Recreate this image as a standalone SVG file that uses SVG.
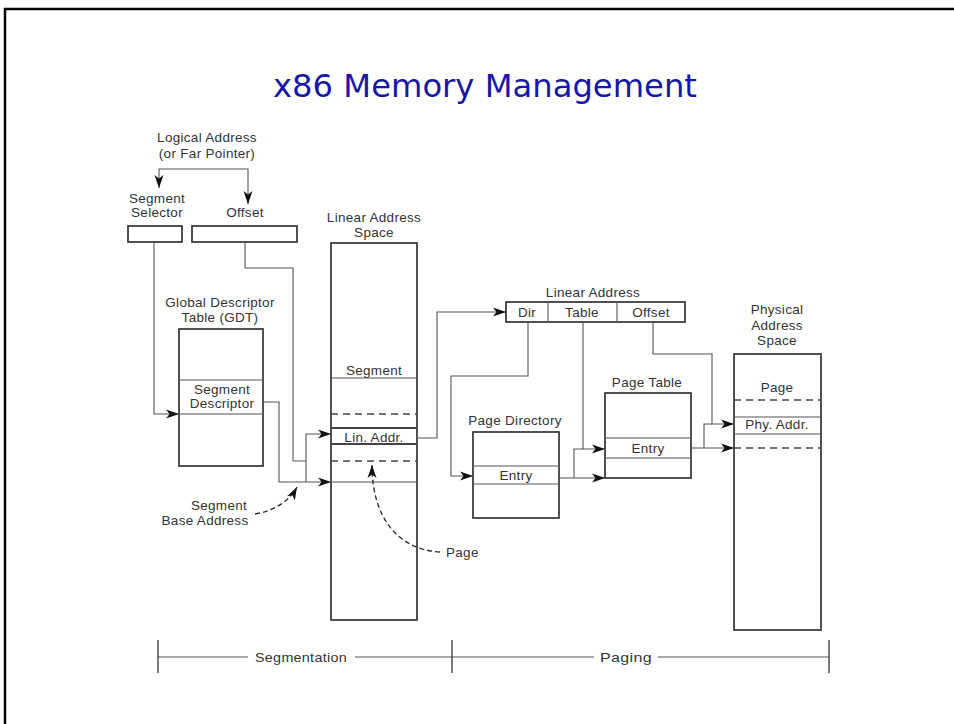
<svg xmlns="http://www.w3.org/2000/svg" width="954" height="724" viewBox="0 0 954 724">
<defs>
<marker id="ah" markerWidth="14" markerHeight="10" refX="13" refY="5" orient="auto" markerUnits="userSpaceOnUse">
<path d="M0,0.5 L13,5 L0,9.5 L3.5,5 Z" fill="#111"/>
</marker>
<style>
.t{font-family:"Liberation Sans",Arial,sans-serif;font-size:13.5px;letter-spacing:0.3px;fill:#333;text-anchor:middle}
.box{fill:#fff;stroke:#333;stroke-width:1.7}
.ln{stroke:#555;stroke-width:1.1;fill:none}
.thk{stroke:#444;stroke-width:2;fill:none}
.dsh{stroke:#444;stroke-width:1.3;stroke-dasharray:7 5;fill:none}
.c{stroke:#555;stroke-width:1.1;fill:none}
.ca{stroke:#555;stroke-width:1.1;fill:none;marker-end:url(#ah)}
.cd{stroke:#333;stroke-width:1.4;fill:none;stroke-dasharray:5 3;marker-end:url(#ah)}
</style>
</defs>
<rect width="954" height="724" fill="#fff"/>
<path d="M5,730 V9 H960" fill="none" stroke="#000" stroke-width="2.5"/>
<text x="485" y="97" font-family="Tahoma,'DejaVu Sans',sans-serif" font-size="32" fill="#1818a6" text-anchor="middle" textLength="424" lengthAdjust="spacingAndGlyphs">x86 Memory Management</text>

<g id="logical">
<text class="t" x="207" y="142">Logical Address</text>
<text class="t" x="207" y="158">(or Far Pointer)</text>
</g>
<g id="selector">
<text class="t" x="157" y="203">Segment</text>
<text class="t" x="157" y="217">Selector</text>
<rect class="box" x="128" y="226" width="54" height="16"/>
</g>
<g id="offset">
<text class="t" x="245" y="217">Offset</text>
<rect class="box" x="192" y="226" width="105" height="16"/>
</g>
<g id="gdt">
<text class="t" x="220" y="307">Global Descriptor</text>
<text class="t" x="220" y="322">Table (GDT)</text>
<rect class="box" x="179" y="329" width="84" height="137"/>
<line class="ln" x1="179" y1="380" x2="263" y2="380"/>
<line class="ln" x1="179" y1="414" x2="263" y2="414"/>
<text class="t" x="222" y="394">Segment</text>
<text class="t" x="222" y="408">Descriptor</text>
</g>
<g id="base-label">
<text class="t" x="219" y="510">Segment</text>
<text class="t" x="205" y="525">Base Address</text>
</g>
<g id="las">
<text class="t" x="374" y="222">Linear Address</text>
<text class="t" x="374" y="237">Space</text>
<rect class="box" x="331" y="243" width="86" height="377"/>
<text class="t" x="374" y="375">Segment</text>
<line class="ln" x1="331" y1="378" x2="417" y2="378"/>
<line class="dsh" x1="331" y1="414" x2="417" y2="414"/>
<line class="thk" x1="331" y1="428" x2="417" y2="428"/>
<text class="t" x="374" y="442">Lin. Addr.</text>
<line class="thk" x1="331" y1="444" x2="417" y2="444"/>
<line class="dsh" x1="331" y1="461" x2="417" y2="461"/>
<line class="ln" x1="331" y1="482" x2="417" y2="482"/>
</g>
<g id="page-label">
<text class="t" x="446" y="557" style="text-anchor:start">Page</text>
</g>
<g id="linaddr">
<text class="t" x="593" y="297">Linear Address</text>
<rect class="box" x="506" y="302" width="179" height="20"/>
<line class="ln" x1="548" y1="302" x2="548" y2="322"/>
<line class="ln" x1="617" y1="302" x2="617" y2="322"/>
<text class="t" x="527" y="317">Dir</text>
<text class="t" x="582" y="317">Table</text>
<text class="t" x="651" y="317">Offset</text>
</g>
<g id="pagedir">
<text class="t" x="515" y="425">Page Directory</text>
<rect class="box" x="473" y="432" width="86" height="86"/>
<line class="ln" x1="473" y1="466" x2="559" y2="466"/>
<line class="ln" x1="473" y1="484" x2="559" y2="484"/>
<text class="t" x="516" y="480">Entry</text>
</g>
<g id="pagetable">
<text class="t" x="647" y="387">Page Table</text>
<rect class="box" x="605" y="393" width="86" height="85"/>
<line class="ln" x1="605" y1="438" x2="691" y2="438"/>
<line class="ln" x1="605" y1="458" x2="691" y2="458"/>
<text class="t" x="648" y="453">Entry</text>
</g>
<g id="phys">
<text class="t" x="777" y="314">Physical</text>
<text class="t" x="777" y="330">Address</text>
<text class="t" x="777" y="345">Space</text>
<rect class="box" x="734" y="354" width="87" height="276"/>
<text class="t" x="777" y="392">Page</text>
<line class="dsh" x1="734" y1="400" x2="821" y2="400"/>
<line class="ln" x1="734" y1="417" x2="821" y2="417"/>
<text class="t" x="777" y="429">Phy. Addr.</text>
<line class="ln" x1="734" y1="434" x2="821" y2="434"/>
<line class="dsh" x1="734" y1="448" x2="821" y2="448"/>
</g>
<g id="scale">
<path class="ln" d="M158,657 H248 M355,657 H594 M658,657 H829"/>
<path d="M158,640 V673 M452,640 V673 M829,640 V673" stroke="#444" stroke-width="1.4" fill="none"/>
<text class="t" x="301" y="662" textLength="92" lengthAdjust="spacingAndGlyphs">Segmentation</text>
<text class="t" x="626" y="662" textLength="52" lengthAdjust="spacingAndGlyphs">Paging</text>
</g>

<g id="connectors">
<path class="ca" d="M205,169 H159 V188"/>
<path class="ca" d="M205,169 H248 V204"/>
<path class="ca" d="M154,242 V414 H179"/>
<path class="ca" d="M263,402 H279 V482 H331"/>
<path class="c" d="M245,242 V268 H293 V461 H306"/>
<path class="ca" d="M306,482 V434 H331"/>
<path class="ca" d="M417,438 H437 V312 H506"/>
<path class="ca" d="M528,322 V376 H451 V476 H473"/>
<path class="ca" d="M583,322 V449 H605"/>
<path class="ca" d="M559,478 H605"/>
<path class="c" d="M574,478 V449 H583"/>
<path class="ca" d="M691,448 H734"/>
<path class="c" d="M704,448 V424 H712"/>
<path class="ca" d="M653,322 V354 H712 V424 H734"/>
<path class="cd" d="M255,514 C275,511 290,500 297,487"/>
<path class="cd" d="M440,552 C400,550 372,520 372,465"/>
</g>
</svg>
